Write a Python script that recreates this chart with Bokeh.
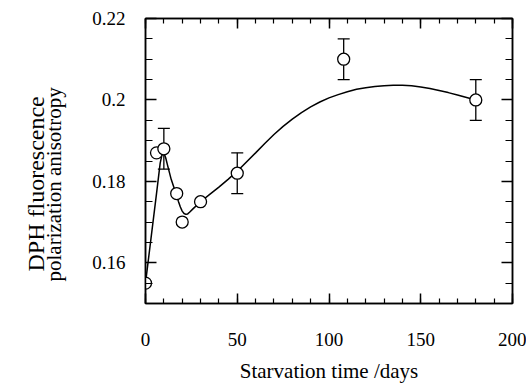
from bokeh.plotting import figure
from bokeh.models import (ColumnDataSource, Whisker, TeeHead, LinearAxis, Range1d,
                          SingleIntervalTicker, CustomJSTickFormatter, Title)
from bokeh.embed import file_html
from bokeh.resources import INLINE

# data points
days = [0, 6, 10, 17, 20, 30, 50, 108, 180]
anisotropy = [0.155, 0.187, 0.188, 0.177, 0.170, 0.175, 0.182, 0.210, 0.200]

# error bars
err_days = [10, 50, 108, 180]
err_upper = [0.193, 0.187, 0.215, 0.205]
err_lower = [0.183, 0.177, 0.205, 0.195]

# fitted curve
fit_days = [0, 3, 6, 8, 9, 10, 11, 12, 14, 16, 17, 18, 19, 20, 21, 22, 23, 24,
            26, 30, 35, 40, 45, 50, 60, 65, 70, 75, 80, 85, 90, 95, 100, 105,
            110, 115, 120, 125, 130, 135, 140, 145, 150, 155, 160, 165, 170,
            175, 180]
fit_vals = [0.155, 0.166, 0.177, 0.1845, 0.1866, 0.1870, 0.1858, 0.1840, 0.1805,
            0.1778, 0.1765, 0.1750, 0.1737, 0.1727, 0.1721, 0.1719, 0.1720,
            0.1724, 0.1733, 0.1750, 0.1768, 0.1786, 0.1805, 0.1825, 0.1870,
            0.1893, 0.1915, 0.1935, 0.1953, 0.1969, 0.1983, 0.1995, 0.2005,
            0.2013, 0.2020, 0.2026, 0.2030, 0.2033, 0.2035, 0.2036, 0.2036,
            0.2035, 0.2032, 0.2028, 0.2023, 0.2018, 0.2012, 0.2006, 0.2000]

y_label_lines = ["DPH fluorescence", "polarization anisotropy"]
x_label = "Starvation time /days"

FONT = "Liberation Serif"

p = figure(width=526, height=385, output_backend="svg", toolbar_location=None,
           x_range=Range1d(0, 200), y_range=Range1d(0.15, 0.22),
           min_border_left=145, min_border_right=14, min_border_top=18,
           min_border_bottom=78, x_axis_location=None, y_axis_location=None)
p.grid.visible = False
p.outline_line_color = "black"
p.outline_line_width = 1.5

xt = SingleIntervalTicker(interval=50, num_minor_ticks=5)
yt = SingleIntervalTicker(interval=0.02, num_minor_ticks=4)
yfmt = CustomJSTickFormatter(code="return String(Math.round(tick*100)/100);")
blank = CustomJSTickFormatter(code="return '';")


def style(ax, major, minor):
    ax.axis_line_width = 1.5
    ax.major_tick_line_width = 1.5
    ax.minor_tick_line_width = 1.2
    ax.major_tick_in = major
    ax.major_tick_out = 0
    ax.minor_tick_in = minor
    ax.minor_tick_out = 0
    ax.major_label_text_font = FONT
    ax.major_label_text_font_size = "19px"
    ax.major_label_text_color = "black"
    ax.axis_label_text_font = FONT
    ax.axis_label_text_font_size = "21px"
    ax.axis_label_text_font_style = "normal"
    ax.axis_label_text_color = "black"


bottom = LinearAxis(ticker=xt, axis_label=x_label)
style(bottom, 10, 5)
bottom.major_label_standoff = 29
bottom.axis_label_standoff = 10
top = LinearAxis(ticker=xt, formatter=blank)
style(top, 10, 5)
top.major_label_standoff = 0
left = LinearAxis(ticker=yt, formatter=yfmt)
style(left, 11, 7)
left.major_label_standoff = 20
right = LinearAxis(ticker=yt, formatter=blank)
style(right, 11, 7)
right.major_label_standoff = 0

p.add_layout(bottom, "below")
p.add_layout(left, "left")
p.add_layout(top, "above")
p.add_layout(right, "right")

ylab2 = Title(text=y_label_lines[1], align="left", offset=22, standoff=47,
              text_font=FONT, text_font_size="21px", text_font_style="normal",
              text_color="black")
p.add_layout(ylab2, "left")
ylab1 = Title(text=y_label_lines[0], align="left", offset=32, standoff=-64,
              text_font=FONT, text_font_size="24px", text_font_style="normal",
              text_color="black")
p.add_layout(ylab1, "left")

esrc = ColumnDataSource(dict(x=err_days, upper=err_upper, lower=err_lower))
wh = Whisker(base="x", upper="upper", lower="lower", source=esrc,
             line_color="black", line_width=1.3,
             upper_head=TeeHead(size=12, line_width=1.3, line_color="black"),
             lower_head=TeeHead(size=12, line_width=1.3, line_color="black"),
             level="underlay")
p.add_layout(wh)

p.line(fit_days, fit_vals, line_color="black", line_width=1.5)
p.scatter(days, anisotropy, marker="circle", size=12, fill_color="white",
          line_color="black", line_width=1.3)

open("out.html", "w").write(file_html(p, INLINE))
